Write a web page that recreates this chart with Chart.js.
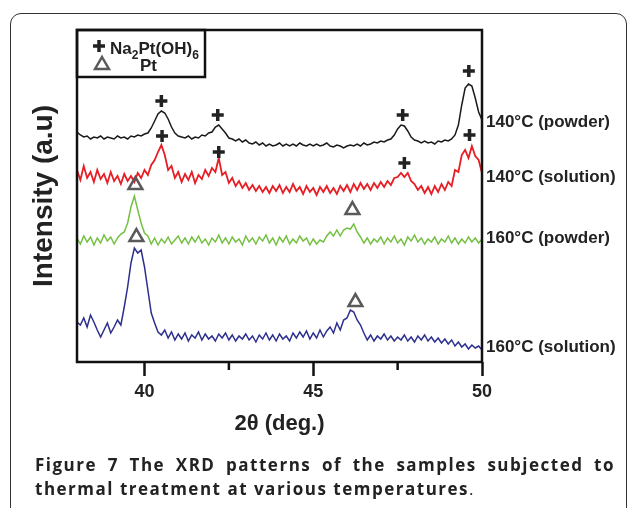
<!DOCTYPE html>
<html>
<head>
<meta charset="utf-8">
<script src="https://cdn.jsdelivr.net/npm/chart.js@4/dist/chart.umd.min.js"></script>
<style>
html,body{margin:0;padding:0;background:#fff;}
#wrap{position:relative;width:629px;height:508px;overflow:hidden;background:#fff;}
#frame{position:absolute;left:10px;top:13px;width:617px;height:520px;border:1.5px solid #333;border-radius:11px;box-sizing:border-box;}
#c{position:absolute;left:0;top:0;}
.cap{position:absolute;left:35px;font-family:'Open Sans',sans-serif;font-weight:700;font-size:17px;letter-spacing:1.5px;color:#222;line-height:20px;}
#cap1{top:455px;width:580px;text-align:justify;text-align-last:justify;white-space:nowrap;}
#cap2{top:479px;white-space:nowrap;}
#cap2 span{font-weight:400;}
</style>
</head>
<body>
<div id="wrap">
  <div id="frame"></div>
  <canvas id="c" width="629" height="508"></canvas>
  <div class="cap" id="cap1">Figure 7 The XRD patterns of the samples subjected to</div>
  <div class="cap" id="cap2">thermal treatment at various temperatures<span>.</span></div>
</div>
<script>
// 2θ sampling (deg.)
const twoTheta = [
38.0,38.1,38.2,38.3,38.4,38.5,38.6,38.7,38.8,38.9,
39.0,39.1,39.2,39.3,39.4,39.5,39.6,39.7,39.8,39.9,
40.0,40.1,40.2,40.3,40.4,40.5,40.6,40.7,40.8,40.9,
41.0,41.1,41.2,41.3,41.4,41.5,41.6,41.7,41.8,41.9,
42.0,42.1,42.2,42.3,42.4,42.5,42.6,42.7,42.8,42.9,
43.0,43.1,43.2,43.3,43.4,43.5,43.6,43.7,43.8,43.9,
44.0,44.1,44.2,44.3,44.4,44.5,44.6,44.7,44.8,44.9,
45.0,45.1,45.2,45.3,45.4,45.5,45.6,45.7,45.8,45.9,
46.0,46.1,46.2,46.3,46.4,46.5,46.6,46.7,46.8,46.9,
47.0,47.1,47.2,47.3,47.4,47.5,47.6,47.7,47.8,47.9,
48.0,48.1,48.2,48.3,48.4,48.5,48.6,48.7,48.8,48.9,
49.0,49.1,49.2,49.3,49.4,49.5,49.6,49.7,49.8,49.9,
50.0];

// Intensity (a.u., stacked offsets as plotted)
const powder140 = [
230,227,225,226,223,225,224,226,223,225,
224,223,226,224,225,223,226,225,227,226,
228,229,234,241,248,251,249,243,235,229,
226,225,224,226,223,225,224,227,226,229,
230,235,237,233,229,224,223,221,223,220,
222,219,218,220,217,219,216,218,216,217,
219,216,218,216,218,216,219,217,216,218,
216,218,216,217,219,216,215,217,216,214,
216,217,216,218,216,219,217,218,220,219,
221,220,222,223,227,233,237,236,231,225,
222,221,219,221,219,220,218,221,220,222,
221,223,227,237,257,274,278,276,264,250,
242];

const solution140 = [
192,182,196,184,190,180,192,183,188,179,
190,181,186,178,188,181,186,180,189,184,
192,187,197,202,210,217,207,192,196,184,
190,180,188,182,190,179,187,183,192,186,
194,190,204,187,190,179,184,176,181,174,
179,172,177,171,176,170,175,169,176,171,
177,169,175,170,178,171,175,168,176,170,
174,167,175,170,176,169,174,168,176,171,
177,170,178,172,179,173,178,172,179,174,
180,175,181,177,184,185,189,185,189,181,
178,172,176,169,175,168,176,170,178,172,
180,176,192,190,207,212,204,216,206,202,
189];

const powder160 = [
124,118,126,120,125,117,124,119,127,121,
125,118,124,128,130,139,155,166,152,139,
129,126,118,124,117,123,119,125,118,122,
126,119,124,118,125,120,126,119,123,117,
124,120,127,119,124,118,125,120,123,117,
126,120,124,118,125,121,127,119,124,117,
125,120,126,118,123,119,126,121,124,117,
123,118,122,120,126,130,126,132,126,132,
134,133,138,130,125,119,124,118,123,120,
125,118,124,120,126,119,123,117,125,121,
127,120,124,118,123,120,125,118,123,120,
126,119,124,118,123,119,125,120,124,119,
123];

const solution160 = [
40,37,44,35,47,40,32,25,32,39,
29,35,42,37,55,75,99,114,109,112,
95,72,49,39,30,27,32,24,30,22,
28,23,29,21,27,24,30,22,28,23,
26,21,28,24,29,22,27,21,26,23,
28,22,26,20,27,23,29,22,27,21,
28,23,26,21,29,24,30,25,31,23,
29,24,32,25,31,35,29,39,32,42,
44,52,50,42,37,29,22,27,21,26,
23,28,22,26,21,25,22,27,21,25,
20,26,22,27,21,25,20,24,19,23,
18,22,16,20,15,18,13,17,14,16,
12];

// Reflection markers
const naPtX140P = [40.5, 42.17, 47.65, 49.61];
const naPtY140P = [261, 247, 247, 291];
const naPtX140S = [40.52, 42.2, 47.7, 49.63];
const naPtY140S = [226, 210, 199, 227];
const ptX = [39.73, 46.16, 39.76, 46.25];
const ptY = [177, 152, 125, 60];

const xTicks = [40, 42.5, 45, 47.5, 50];
const xTickLabels = {40: '40', 45: '45', 50: '50'};
const sampleLabels = ['140\u00B0C (powder)', '140\u00B0C (solution)', '160\u00B0C (powder)', '160\u00B0C (solution)'];
const sampleLabelY = [122, 177, 238, 347];
const legendNames = ['Na2Pt(OH)6', 'Pt'];

const pts = (xs, ys) => xs.map((x, i) => ({x: x, y: ys[i]}));

const FONT = 'Liberation Sans, Arial, sans-serif';

const decor = {
  id: 'decor',
  afterDatasetsDraw(chart) {
    const ctx = chart.ctx;
    const a = chart.chartArea;
    const xs = chart.scales.x;
    ctx.save();
    // plot frame
    ctx.strokeStyle = '#111';
    ctx.lineWidth = 2.5;
    ctx.strokeRect(a.left, a.top, a.right - a.left, a.bottom - a.top);
    // minor ticks
    [42.5, 47.5].forEach(v => {
      const px = xs.getPixelForValue(v);
      ctx.beginPath();
      ctx.moveTo(px, a.bottom);
      ctx.lineTo(px, a.bottom + 8);
      ctx.stroke();
    });
    // legend box
    ctx.lineWidth = 2.5;
    ctx.strokeRect(a.left, a.top, 128, 47);
    // plus symbol
    ctx.strokeStyle = '#222';
    ctx.lineWidth = 3.5;
    ctx.beginPath();
    ctx.moveTo(93, 46); ctx.lineTo(105, 46);
    ctx.moveTo(99, 40); ctx.lineTo(99, 52);
    ctx.stroke();
    // triangle symbol
    ctx.strokeStyle = '#5a5a5a';
    ctx.lineWidth = 2.5;
    const tx = 102, ty = 65, r = 8;
    ctx.beginPath();
    ctx.moveTo(tx, ty - r);
    ctx.lineTo(tx + r * 0.866, ty + r * 0.5);
    ctx.lineTo(tx - r * 0.866, ty + r * 0.5);
    ctx.closePath();
    ctx.stroke();
    // legend text
    ctx.fillStyle = '#222';
    ctx.textBaseline = 'alphabetic';
    ctx.textAlign = 'left';
    let x = 110;
    const big = 'bold 17px ' + FONT, small = 'bold 12px ' + FONT;
    ctx.font = big; ctx.fillText('Na', x, 54); x += ctx.measureText('Na').width;
    ctx.font = small; ctx.fillText('2', x, 59); x += ctx.measureText('2').width;
    ctx.font = big; ctx.fillText('Pt(OH)', x, 54); x += ctx.measureText('Pt(OH)').width;
    ctx.font = small; ctx.fillText('6', x, 59);
    ctx.font = big; ctx.fillText('Pt', 140, 71);
    // sample labels
    ctx.font = 'bold 17px ' + FONT;
    ctx.textBaseline = 'middle';
    sampleLabels.forEach((t, i) => ctx.fillText(t, a.right + 4, sampleLabelY[i]));
    ctx.restore();
  }
};

new Chart(document.getElementById('c'), {
  type: 'line',
  data: {
    datasets: [
      {label: 'Na2Pt(OH)6 140P', data: pts(naPtX140P, naPtY140P), showLine: false, pointStyle: 'cross', pointRadius: 6, pointBorderWidth: 3.5, pointBorderColor: '#222', order: 0},
      {label: 'Na2Pt(OH)6 140S', data: pts(naPtX140S, naPtY140S), showLine: false, pointStyle: 'cross', pointRadius: 6, pointBorderWidth: 3.5, pointBorderColor: '#222', order: 0},
      {label: 'Pt', data: pts(ptX, ptY), showLine: false, pointStyle: 'triangle', pointRadius: 8, pointBorderWidth: 2.5, pointBorderColor: '#5a5a5a', pointBackgroundColor: 'rgba(255,255,255,0)', order: 0},
      {label: '140°C (powder)', data: pts(twoTheta, powder140), borderColor: '#1a1a1a', borderWidth: 1.5, pointRadius: 0, order: 1},
      {label: '140°C (solution)', data: pts(twoTheta, solution140), borderColor: '#e61e25', borderWidth: 1.8, pointRadius: 0, order: 1},
      {label: '160°C (powder)', data: pts(twoTheta, powder160), borderColor: '#74c043', borderWidth: 1.5, pointRadius: 0, order: 1},
      {label: '160°C (solution)', data: pts(twoTheta, solution160), borderColor: '#2c2f8e', borderWidth: 1.5, pointRadius: 0, order: 1}
    ]
  },
  options: {
    responsive: false,
    animation: false,
    events: [],
    layout: {padding: {left: 0, right: 147, top: 30, bottom: 0}},
    plugins: {legend: {display: false}, tooltip: {enabled: false}},
    scales: {
      x: {
        type: 'linear', min: 38, max: 50,
        afterBuildTicks: s => { s.ticks = xTicks.map(v => ({value: v})); },
        afterFit: s => { s.height = 146; },
        border: {display: false},
        grid: {drawOnChartArea: false, drawTicks: true, tickLength: 14, tickWidth: 2.5,
               tickColor: c => (c.tick && xTickLabels[c.tick.value]) ? '#111' : 'rgba(0,0,0,0)'},
        ticks: {padding: 5, color: '#222', font: {family: FONT, size: 18, weight: 'bold'}, maxRotation: 0,
                callback: v => xTickLabels[v] || ''},
        title: {display: true, text: '2\u03B8 (deg.)', color: '#222', font: {family: FONT, size: 22, weight: 'bold'}, padding: {top: 0, bottom: 71}}
      },
      y: {
        min: 0, max: 332,
        afterFit: s => { s.width = 77; },
        border: {display: false},
        grid: {display: false, drawTicks: false},
        ticks: {display: false},
        title: {display: true, text: 'Intensity (a.u)', color: '#222', font: {family: FONT, size: 28, weight: 'bold'}, padding: {top: 27, bottom: 0}}
      }
    }
  },
  plugins: [decor]
});
</script>
</body>
</html>
